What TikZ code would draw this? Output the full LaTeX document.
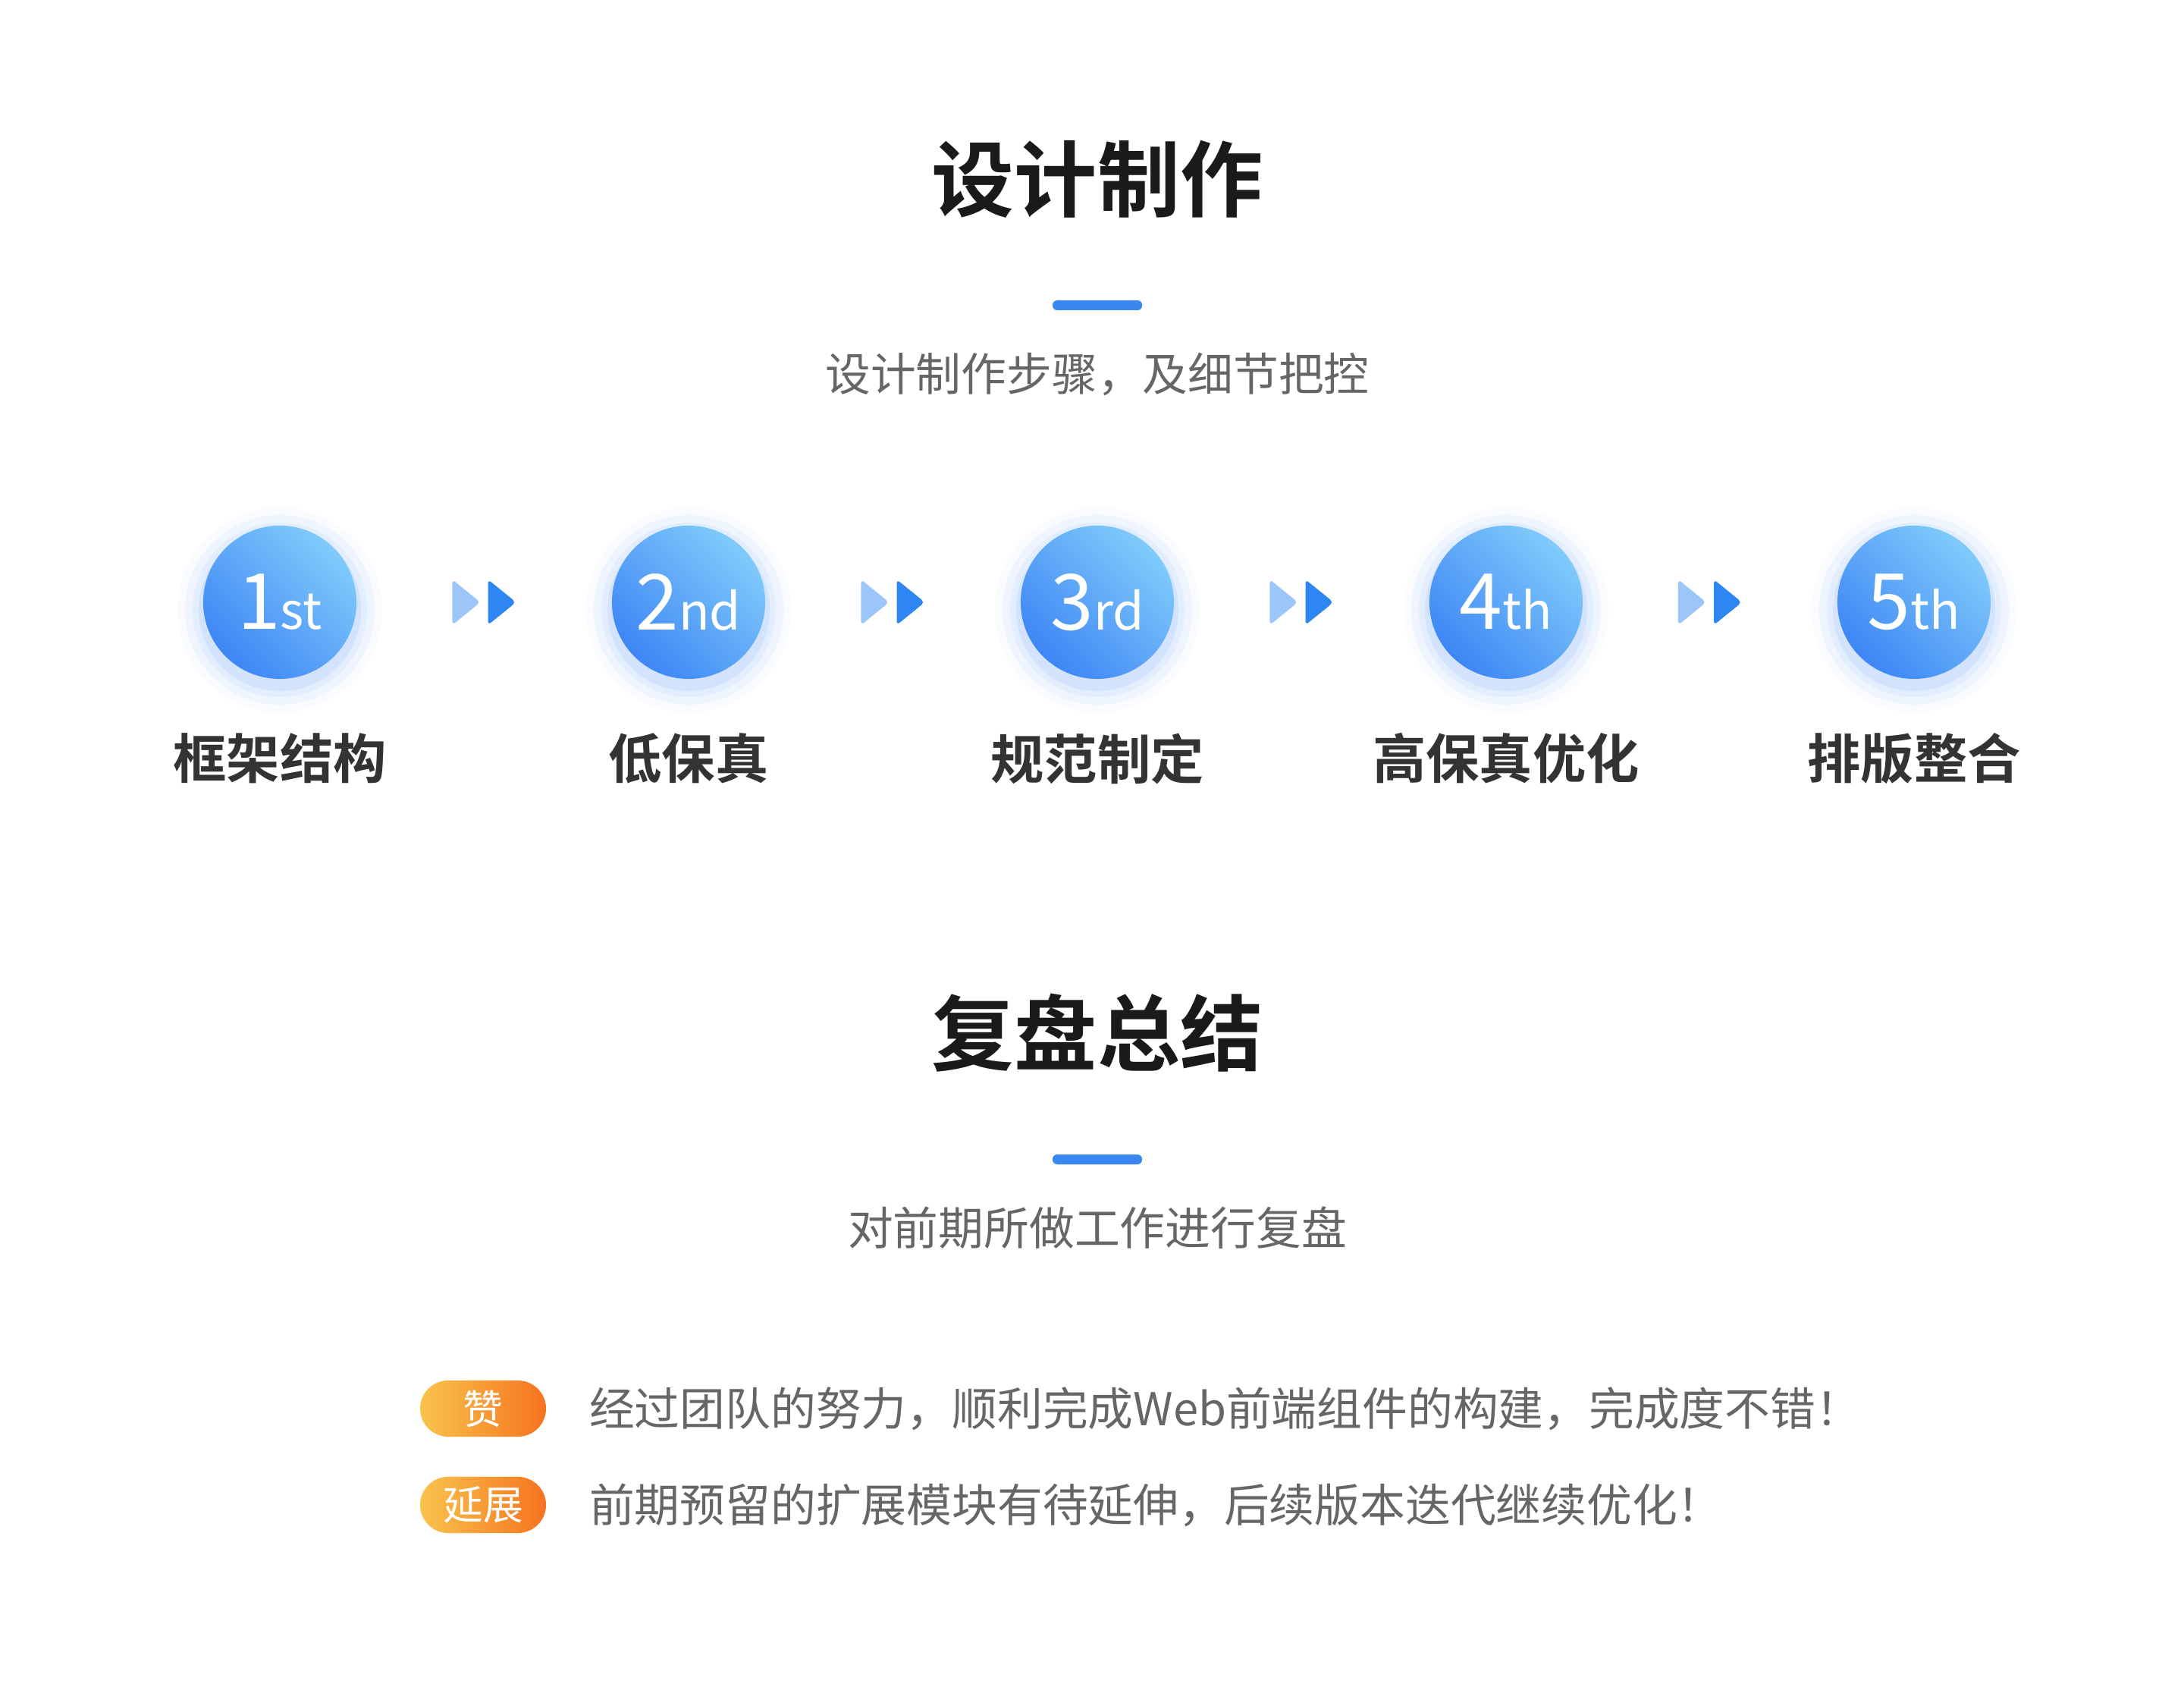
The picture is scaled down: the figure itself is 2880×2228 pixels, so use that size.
\documentclass[tikz,border=0pt]{standalone}
\usepackage{fontspec}
\setmainfont{Noto Sans CJK SC}[BoldFont={Noto Sans CJK SC Bold}]
\usetikzlibrary{positioning,calc}
\definecolor{titlegray}{HTML}{1A1A1A}
\definecolor{labelgray}{HTML}{333333}
\definecolor{textgray}{HTML}{666666}
\definecolor{barblue}{HTML}{3A87F2}
\definecolor{ballhi}{HTML}{80CBFB}
\definecolor{balllo}{HTML}{3E86F5}
\definecolor{arrlight}{HTML}{9CC6F8}
\definecolor{arrdark}{HTML}{2E86F2}
\definecolor{badgeyel}{HTML}{F8C44C}
\definecolor{badgeora}{HTML}{F6731F}
\tikzset{
    %Define style for headings
    heading/.style={
           font=\fontsize{31}{31}\selectfont\bfseries,
           text=titlegray},
    subheading/.style={
           font=\fontsize{17}{17}\selectfont,
           text=textgray},
    % Define style for the step balls
    ball/.style={
           circle,
           minimum size=2.02cm,
           inner sep=0pt,
           left color=ballhi, right color=balllo,
           shading angle=-45,
           text=white},
    steplabel/.style={
           font=\fontsize{20}{20}\selectfont\bfseries,
           text=labelgray},
    badge/.style={
           rounded corners=0.37cm,
           minimum width=1.66cm,
           minimum height=0.74cm,
           inner sep=0pt,
           left color=badgeyel, right color=badgeora,
           text=white,
           font=\fontsize{15}{15}\selectfont},
    remark/.style={
           anchor=west,
           font=\fontsize{17}{17}\selectfont,
           text=textgray}
}
\newcommand{\stepnum}[2]{\fontsize{29}{29}\selectfont #1\fontsize{19}{19}\selectfont #2}
\newcommand{\twinarrow}[1]{%
    \fill[arrlight, rounded corners=1.5pt] ([xshift=-0.42cm,yshift=0.3cm]#1) -- ([xshift=-0.05cm]#1) -- ([xshift=-0.42cm,yshift=-0.3cm]#1) -- cycle;
    \fill[arrdark, rounded corners=1.5pt] ([xshift=0.05cm,yshift=0.3cm]#1) -- ([xshift=0.42cm]#1) -- ([xshift=0.05cm,yshift=-0.3cm]#1) -- cycle;}
\begin{document}
\begin{tikzpicture}[x=0.01cm, y=-0.01cm]
    \useasboundingbox (0,0) rectangle (2880,2228);
 %headings
    \node[heading] (design) at (1447,236) {设计制作};
    \fill[barblue, rounded corners=0.06cm] (1388,396) rectangle (1506,409);
    \node[subheading] (designsub) at (1447,493) {设计制作步骤，及细节把控};
    \node[heading] (review) at (1447,1362) {复盘总结};
    \fill[barblue, rounded corners=0.06cm] (1388,1522) rectangle (1506,1535);
    \node[subheading] (reviewsub) at (1447,1619) {对前期所做工作进行复盘};
 %step balls
    \foreach \x/\n/\s/\t [count=\i] in {369/1/st/框架结构, 908/2/nd/低保真, 1447/3/rd/规范制定, 1986/4/th/高保真优化, 2524/5/th/排版整合}{
        \foreach \r/\o in {1.35/0.03, 1.25/0.05, 1.15/0.07, 1.07/0.09}
            \fill[balllo, opacity=\o] (\x,804) circle (\r cm);
        \node[ball] (s\i) at (\x,794) {\stepnum{\n}{\s}};
        \node[steplabel] (l\i) at (\x,1000) {\t};
    }
 %arrows
    \foreach \i [evaluate=\i as \j using int(\i+1)] in {1,...,4}{
        \coordinate (a\i) at ($(s\i)!0.5!(s\j)$);
        \twinarrow{a\i}
    }
 %remarks
    \node[badge] (good) at (637,1857) {赞};
    \node[remark, right=0.44cm of good] (goodtxt) {经过团队的努力，顺利完成Web前端组件的构建，完成度不错！};
    \node[badge] (ext) at (637,1984) {延展};
    \node[remark, right=0.44cm of ext] (exttxt) {前期预留的扩展模块有待延伸，后续版本迭代继续优化！};
\end{tikzpicture}
\end{document}
